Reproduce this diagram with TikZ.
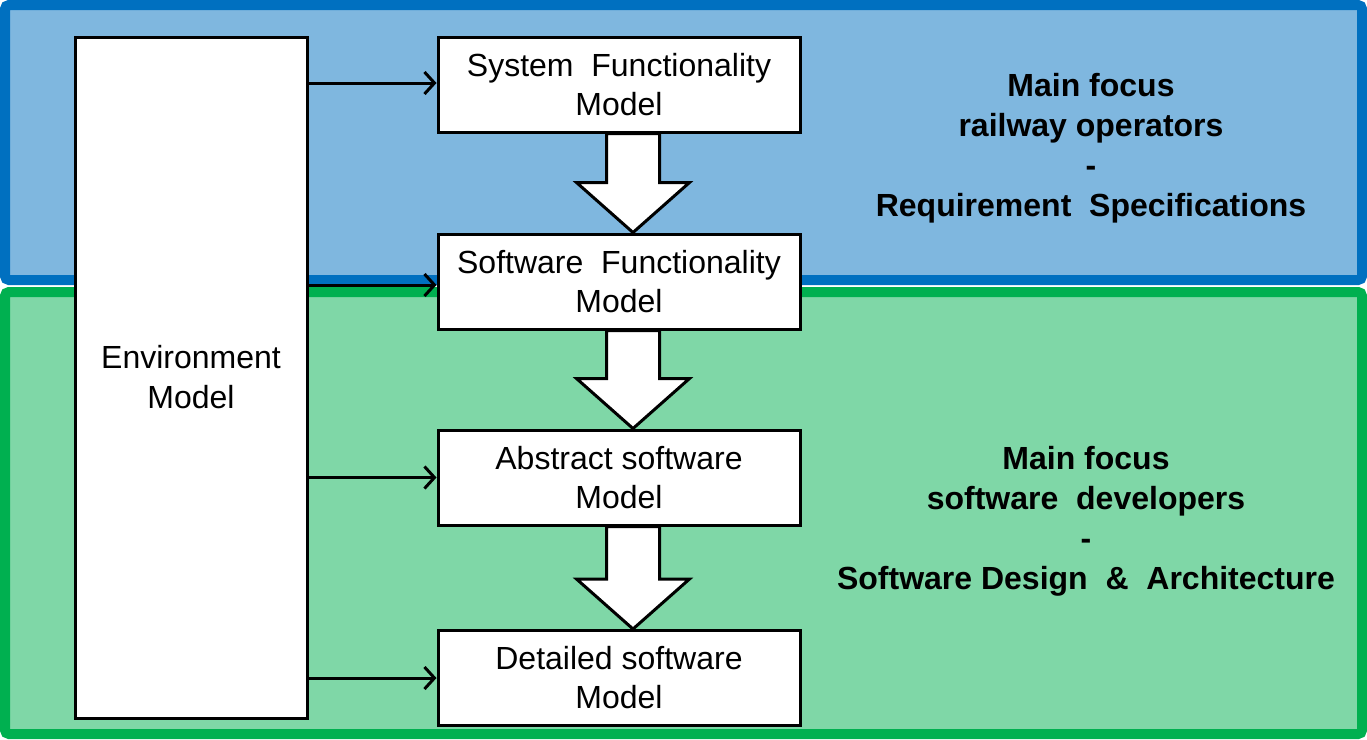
\documentclass[tikz,border=0pt]{standalone}
\usepackage{fontspec}
\setmainfont{Liberation Sans}
\usetikzlibrary{arrows.meta,calc}
\definecolor{blueline}{HTML}{0070C0}
\definecolor{bluefill}{HTML}{7FB7DF}
\definecolor{greenline}{HTML}{00B050}
\definecolor{greenfill}{HTML}{7FD7A7}
\tikzset{
  modelbox/.style={draw=black,line width=3pt,fill=white,minimum width=362pt,minimum height=95pt,inner sep=0pt,align=center,font=\fontsize{32}{39}\selectfont},
  envbox/.style={draw=black,line width=3pt,fill=white,minimum width=232pt,minimum height=681pt,inner sep=0pt,align=center,font=\fontsize{32}{40}\selectfont},
  focustext/.style={inner sep=0pt,align=center,font=\bfseries\fontsize{32}{40}\selectfont},
  feed/.style={draw=black,line width=3pt,-{Straight Barb[length=10pt,width=22pt]}},
  blockarrow/.style={draw=black,line width=3pt,fill=white,line join=miter}
}
\begin{document}
\begin{tikzpicture}[x=1pt,y=-1pt]
\useasboundingbox (0,0) rectangle (1367,739);
% frames
\draw[line width=10pt,draw=greenline,fill=greenfill,rounded corners=4pt] (5,292) rectangle (1362,734);
\draw[line width=10pt,draw=blueline,fill=bluefill,rounded corners=4pt] (5,5) rectangle (1362,280);
% environment
\node[envbox] (env) at (191,377.5) {Environment\\Model};
% model boxes
\node[modelbox] (b1) at (619,84.5) {System\ \ Functionality\\Model};
\node[modelbox] (b2) at (619,281.5) {Software\ \ Functionality\\Model};
\node[modelbox] (b3) at (619,477.5) {Abstract software\\Model};
\node[modelbox] (b4) at (619,678) {Detailed software\\Model};
% block arrows
\foreach \a/\b in {b1/b2,b2/b3,b3/b4}{
  \draw[blockarrow]
    let \p1=(\a.south), \p2=(\b.north) in
    (\x1+14-26.5,\y1) -- (\x1+14+26.5,\y1) -- (\x1+14+26.5,\y2+50) -- (\x1+14+56.5,\y2+50)
    -- (\x1+14,\y2) -- (\x1+14-56.5,\y2+50) -- (\x1+14-26.5,\y2+50) -- cycle;
}
% feed arrows
\draw[feed] (env.east |- 0,83) -- (b1.west |- 0,83);
\draw[feed] (env.east |- 0,285) -- (b2.west |- 0,285);
\draw[feed] (env.east |- b3.west) -- (b3.west);
\draw[feed] (env.east |- b4.west) -- (b4.west);
% focus texts
\node[focustext] (t1) at (1091,148) {Main focus\\railway operators\\-\\Requirement\ \ Specifications};
\node[focustext] (t2) at (1086,521) {Main focus\\software\ \ developers\\-\\Software Design\ \ \&\ \ Architecture};
\end{tikzpicture}
\end{document}
